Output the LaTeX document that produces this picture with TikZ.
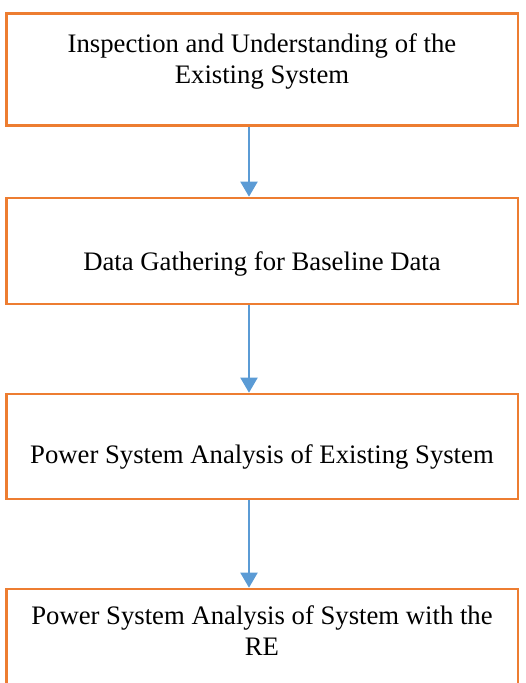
\documentclass[tikz,border=0pt]{standalone}
\usepackage{fontspec}
\setmainfont{Liberation Serif}
\usetikzlibrary{arrows.meta,calc}
\definecolor{BoxClr}{HTML}{ED7D31}
\definecolor{ArrowClr}{HTML}{5B9BD5}

\begin{document}
\begin{tikzpicture}[x=1pt,y=-1pt]
\tikzset{stepbox/.style={draw=BoxClr,line width=2.6pt,inner sep=0pt,minimum width=511.5pt},
  steptext/.style={font=\fontsize{26.7}{31}\selectfont,align=center,inner sep=0pt},
  flow/.style={draw=ArrowClr,line width=2pt,-{Triangle[width=17pt,length=15pt]}}}
\useasboundingbox (0,0) rectangle (525,683);

% boxes
\node[stepbox,minimum height=112pt] (B1) at (262.25,69.5) {};
\node[stepbox,minimum height=106pt] (B2) at (262.25,251) {};
\node[stepbox,minimum height=105pt] (B3) at (262.25,446.5) {};
\node[stepbox,minimum height=111pt] (B4) at (262.25,644.5) {};

% texts
\node[steptext] (T1) at (262,61.5) {Inspection and Understanding of the\\Existing System};
\node[steptext,anchor=base] (T2) at (262,270) {Data Gathering for Baseline Data};
\node[steptext,anchor=base] (T3) at (262,463) {Power System Analysis of Existing System};
\node[steptext] (T4) at (262,631) {Power System Analysis of System with the\\RE};

% arrows
\coordinate (X) at (249,0);
\draw[flow] (B1.south -| X) -- (B2.north -| X);
\draw[flow] (B2.south -| X) -- (B3.north -| X);
\draw[flow] (B3.south -| X) -- (B4.north -| X);

\end{tikzpicture}
\end{document}
